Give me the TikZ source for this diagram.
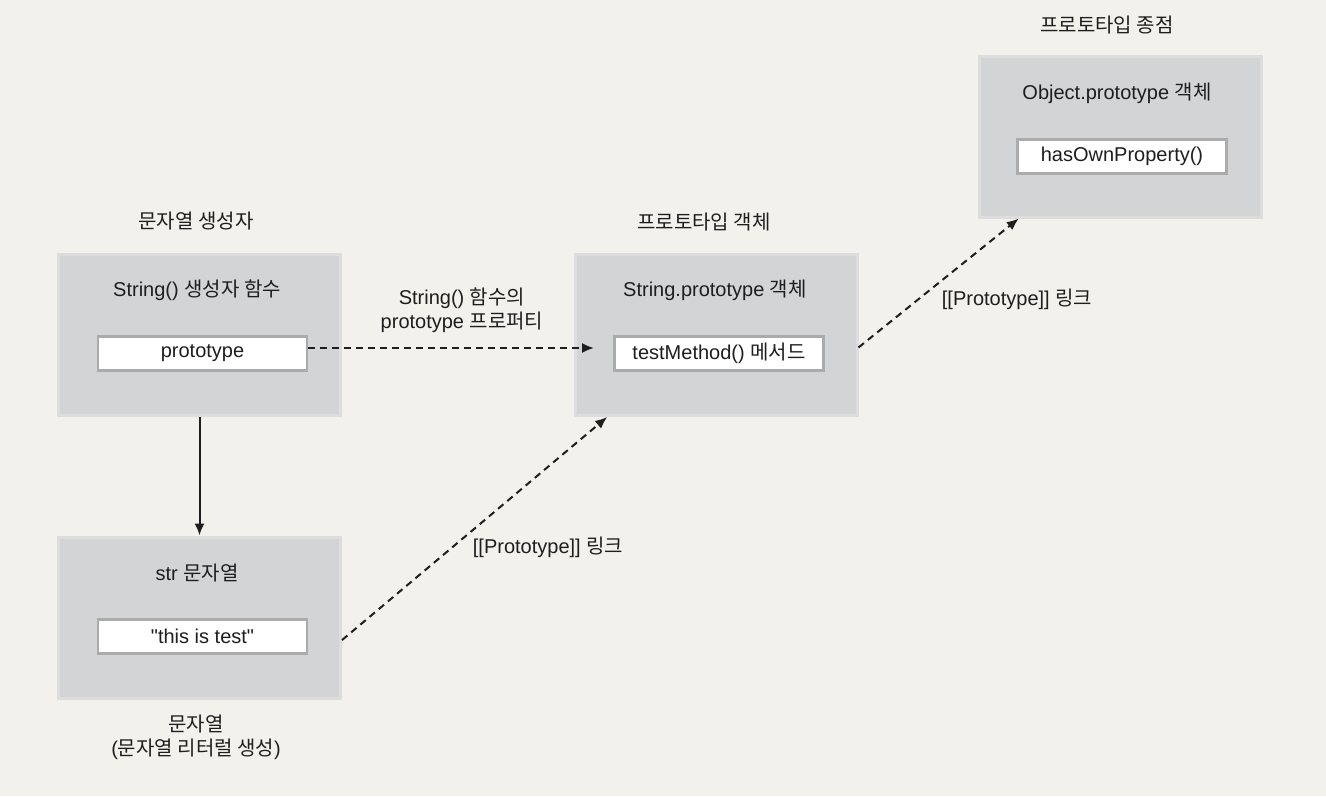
\documentclass[tikz,border=0pt]{standalone}
\usepackage{fontspec}
\setmainfont{Liberation Sans}[Ligatures=TeXOff]
\newfontfamily\kofont{Noto Sans CJK KR}
\newcommand{\ko}[1]{{\kofont #1}}
\usetikzlibrary{arrows,arrows.meta,positioning}
\definecolor{paper}{HTML}{F3F1EC}
\definecolor{boxfill}{HTML}{D3D4D6}
\definecolor{boxline}{HTML}{DDDDDE}
\definecolor{slotline}{HTML}{ABABAB}
\definecolor{ink}{HTML}{1E1E1E}

\begin{document}
\begin{tikzpicture}[x=1pt, y=-1pt, >={Latex[length=12pt,width=10pt]},
    objbox/.style={draw=boxline, line width=3pt, fill=boxfill,
      minimum width=282pt, minimum height=161pt, inner sep=0pt},
    slot/.style={draw=slotline, line width=2.5pt, fill=white,
      minimum width=209pt, minimum height=34pt, inner sep=0pt},
    txt/.style={text=ink, font=\fontsize{20}{24}\selectfont, align=center},
    link/.style={->, draw=ink, dash pattern=on 7pt off 5pt, line width=2pt}]
    \fill[paper] (0,0) rectangle (1326,796);
    \useasboundingbox (0,0) rectangle (1326,796);
    \begin{scope}
      % Constructor and the string it makes
      \node(ctor)[objbox] at (199.5,334.5) {};
      \node(ctorhead)[txt] at (196,221) {\ko{문자열 생성자}};
      \node(ctortitle)[txt] at (197,290) {String() \ko{생성자 함수}};
      \node(protoslot)[slot,txt] at (202.5,353.5) {prototype};
      \node(str)[objbox] at (199.5,617.5) {};
      \node(strtitle)[txt] at (197,573) {str \ko{문자열}};
      \node(valueslot)[slot,txt] at (202.5,636.5) {"this is test"};
      \node(strfoot)[txt] at (196,737) {\ko{문자열}\\(\ko{문자열 리터럴 생성})};
    \end{scope}
    \begin{scope}
      % Prototype objects
      \node(strproto)[objbox] at (716,335) {};
      \node(strprotohead)[txt] at (704,222) {\ko{프로토타입 객체}};
      \node(strprototitle)[txt] at (715,290) {String.prototype \ko{객체}};
      \node(methodslot)[slot,txt] at (719,353.5) {testMethod() \ko{메서드}};
      \node(objproto)[objbox] at (1120,136.5) {};
      \node(objprotohead)[txt] at (1107,25) {\ko{프로토타입 종점}};
      \node(objprototitle)[txt] at (1117,93) {Object.prototype \ko{객체}};
      \node(ownslot)[slot,txt] at (1122,156.5) {hasOwnProperty()};
    \end{scope}
    \coordinate (protoend) at (594,348);
    \path (ctor) edge[->, draw=ink, line width=2pt] (str);
    \path (protoslot.east |- protoend) edge[link] (protoend);
    \path (str.-9) edge[link] (strproto.217);
    \path (strproto.-5) edge[link] (objproto.219);
    % Connector labels
    \node(protolabel)[txt] at (462,310) {String() \ko{함수의}\\prototype \ko{프로퍼티}};
    \node(strlink)[txt] at (548,547) {[[Prototype]] \ko{링크}};
    \node(protolink)[txt] at (1017,299) {[[Prototype]] \ko{링크}};
\end{tikzpicture}
\end{document}
